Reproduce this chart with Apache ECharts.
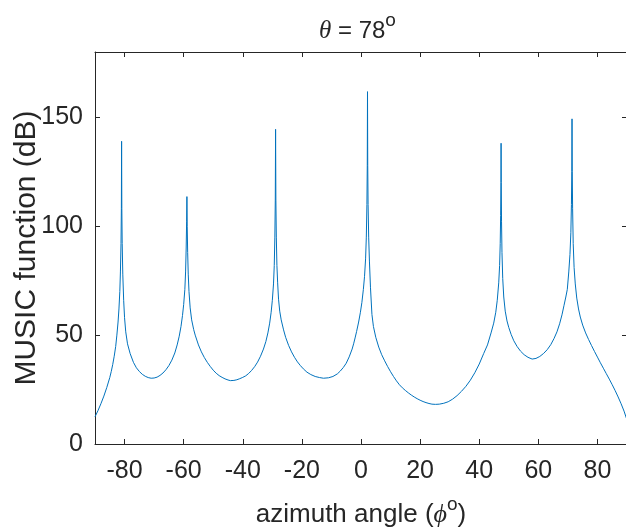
<!DOCTYPE html>
<html><head><meta charset="utf-8">
<script src="https://cdn.jsdelivr.net/npm/echarts@6/dist/echarts.min.js"></script>
<style>html,body{margin:0;padding:0;background:#fff}#c{width:626px;height:529px}</style>
</head><body><div id="c"></div>
<script>
// azimuth angle (deg)
const angles = [
  -90, -89, -88, -87, -86, -85, -84.5, -84, -83.5, -83, -82.6, -82.2, -81.9, -81.6, -81.4, -81.2, -81.08, -81,
  -80.92, -80.8, -80.6, -80.3, -80.0, -79.6, -79.0, -78.1, -77, -76, -75, -74, -73, -72, -71, -70, -69, -68, -67,
  -66, -65, -64, -63, -62.2, -61.5, -60.9, -60.4, -60.0, -59.6, -59.35, -59.15, -59.0, -58.9,
  -58.8, -58.65, -58.45, -58.2, -57.8, -57.3, -56.6, -56.1, -55, -54, -53, -52, -51, -50, -49, -48, -47, -46, -45,
  -44.2, -43, -42, -41, -40, -39, -38, -37, -36, -35, -34, -33, -32.2, -31.5, -30.9, -30.4, -30.0, -29.6, -29.35,
  -29.15, -29.0, -28.9,
  -28.8, -28.65, -28.45, -28.2, -27.9, -27.5, -27, -26.2, -25.5, -24.5, -23.5, -22.5, -21.5, -20.5, -19.5, -18.3,
  -17, -15.5, -14, -12.7, -11, -9.5, -8, -7, -6, -5, -4, -3, -2.5, -2, -1.5, -0.8, -0.2, 0.3, 0.8, 1.2, 1.55, 1.8,
  2.0, 2.12, 2.2,
  2.28, 2.4, 2.6, 2.85, 3.2, 3.7, 4.2, 5, 6, 7, 8, 9, 10, 11, 12, 13, 14, 15, 16, 17, 18, 19, 20, 21, 22, 23, 24,
  25.2, 26.5, 28, 29.5, 31, 32.5, 34, 35.5, 37, 38.5, 40, 41.5, 42.8, 44, 44.9, 45.6, 46.1, 46.6, 46.9, 47.1, 47.25,
  47.35, 47.4,
  47.45, 47.55, 47.7, 47.95, 48.3, 48.8, 49.4, 50, 50.8, 51.7, 52.8, 54, 55.2, 56.5, 57.9, 59.2, 60.5, 61.8, 63,
  64.2, 65.3, 66.3, 67.2, 68, 68.7, 69.3, 69.8, 70.3, 70.7, 71.0, 71.2, 71.32, 71.4,
  71.48, 71.6, 71.8, 72.1, 72.5, 73, 73.6, 74.2, 75, 76, 77, 78, 79, 80, 81, 82, 83, 84, 85, 86, 87, 88, 89, 90
];
// MUSIC function (dB)
const musicDb = [
  12.5, 15.3, 18.5, 22, 26, 30.5, 33.3, 36.5, 40.3, 44.8, 50, 56, 62, 70, 79, 92, 108, 139,
  108, 92, 78, 66, 58, 51.5, 46, 41.5, 37.5, 35, 33.3, 32, 31.1, 30.5, 30.2, 30.3, 30.7, 31.5, 32.6,
  34.1, 36, 38.5, 41.8, 45.5, 49.5, 54, 59, 64, 71, 79, 90, 102, 113.6,
  100, 88, 78, 70, 62.5, 57, 52.5, 50, 45.5, 42.3, 39.7, 37.5, 35.6, 33.9, 32.5, 31.4, 30.6, 29.9, 29.4,
  29.1, 29.2, 29.5, 30, 30.6, 31.3, 32.4, 33.8, 35.5, 37.6, 40.3, 43.6, 47, 51, 55.5, 60.5, 66, 73.5, 82,
  95, 112, 144.5,
  112, 95, 82, 74, 66.5, 61, 57, 52.4, 49, 45.3, 42.3, 39.8, 37.7, 36, 34.5, 33,
  31.9, 31, 30.5, 30.2, 30.4, 31, 32.2, 33.5, 35.1, 37.1, 40, 43.6, 46, 48.7, 51.6, 56, 60.5, 65, 71, 77, 85, 95,
  110, 128, 161.8,
  128, 110, 95, 84, 72, 59.5, 54, 49, 44.5, 41, 38.2, 35.6, 33.2, 31, 29, 27.2, 25.8, 24.6, 23.5, 22.5, 21.6, 20.8, 20.1, 19.5, 19.0, 18.6, 18.3,
  18.2, 18.3, 18.7, 19.4, 20.6, 22.2, 24.2, 26.5, 29.3, 32.7, 36.7, 41.5, 45.5, 51, 55.5, 60.5, 66, 74, 82, 92, 105,
  120, 138.1,
  120, 102, 88, 76, 67.5, 61, 56.5, 53.5, 50.3, 47.4, 44.8, 42.6, 41, 39.8, 39, 39.3, 40.2, 41.6, 43.3,
  45.6, 48.4, 51.5, 55.2, 59.3, 63.7, 67.5, 71, 79, 87, 97, 110, 125, 149.3,
  125, 108, 92, 81, 73.5, 67, 62, 58.3, 54.6, 51, 48, 45.2, 42.5, 39.9, 37.3, 34.8, 32.3, 29.8, 27.2, 24.5, 21.6, 18.5, 15.1, 11
];
const xTicks = [-80, -60, -40, -20, 0, 20, 40, 60, 80];
const yTicks = [0, 50, 100, 150];
const titleText = '{it|θ} = 78{sup|o}';
const xName = 'azimuth angle ({it|ϕ}{sup|o})';
const yName = 'MUSIC function (dB)';

const axisColor = '#262626';
const font = 'Liberation Sans, Arial, Helvetica, sans-serif';
const chart = echarts.init(document.getElementById('c'), null, {renderer: 'canvas'});
const baseAxis = {
  type: 'value',
  axisLine: {show: true, onZero: false, lineStyle: {color: axisColor, width: 1}},
  splitLine: {show: false}
};
chart.setOption({
  animation: false,
  backgroundColor: '#fff',
  grid: {left: 95, top: 52, right: -1, bottom: 85, containLabel: false, outerBoundsMode: 'none'},
  graphic: [{
    type: 'text', left: 319, top: 11,
    style: {
      text: titleText, fill: axisColor, font: '24px ' + font, lineHeight: 40,
      rich: {
        it: {fontStyle: 'italic', fontFamily: 'Liberation Serif', fontSize: 25, fill: axisColor, lineHeight: 40},
        sup: {fontSize: 19, fill: axisColor, fontFamily: font, verticalAlign: 'top'}
      }
    }
  }],
  xAxis: [
    Object.assign({}, baseAxis, {
      min: -90, max: 90, position: 'bottom',
      axisTick: {inside: true, length: 5, customValues: xTicks, lineStyle: {color: axisColor}},
      axisLabel: {customValues: xTicks, fontSize: 25, color: axisColor, margin: 15, fontFamily: font},
      name: xName, nameLocation: 'middle', nameGap: 51, nameMoveOverlap: false,
      nameTextStyle: {
        fontSize: 26, color: axisColor, fontFamily: font, lineHeight: 40,
        rich: {
          it: {fontStyle: 'italic', fontFamily: 'Liberation Serif', fontSize: 26, color: axisColor, lineHeight: 40},
          sup: {fontSize: 19, color: axisColor, fontFamily: font, verticalAlign: 'top'}
        }
      }
    }),
    Object.assign({}, baseAxis, {
      min: -90, max: 90, position: 'top',
      axisTick: {inside: true, length: 5, customValues: xTicks, lineStyle: {color: axisColor}},
      axisLabel: {show: false}
    })
  ],
  yAxis: [
    Object.assign({}, baseAxis, {
      min: 0, max: 180, position: 'left',
      axisTick: {inside: true, length: 5, customValues: yTicks, lineStyle: {color: axisColor}},
      axisLabel: {customValues: yTicks, fontSize: 25, color: axisColor, margin: 12, fontFamily: font},
      name: yName, nameLocation: 'middle', nameGap: 53, nameMoveOverlap: false,
      nameTextStyle: {fontSize: 30, color: axisColor, fontFamily: font}
    }),
    Object.assign({}, baseAxis, {
      min: 0, max: 180, position: 'right',
      axisTick: {inside: true, length: 5, customValues: yTicks, lineStyle: {color: axisColor}},
      axisLabel: {show: false}
    })
  ],
  series: [{
    type: 'line', xAxisIndex: 0, yAxisIndex: 0,
    data: angles.map((a, i) => [a, musicDb[i]]),
    showSymbol: false, symbol: 'none',
    lineStyle: {color: '#0072BD', width: 1},
    emphasis: {disabled: true}
  }]
});
</script>
</body></html>
